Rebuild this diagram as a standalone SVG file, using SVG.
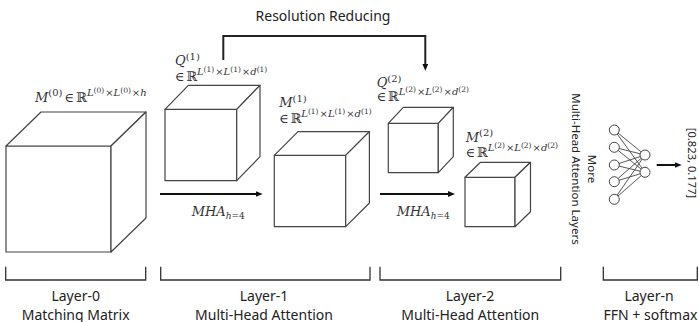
<svg xmlns="http://www.w3.org/2000/svg" width="699" height="322" viewBox="0 0 699 322">
<defs>
<marker id="ah" viewBox="0 0 7 6" refX="1" refY="3" markerWidth="7" markerHeight="6" markerUnits="userSpaceOnUse" orient="auto"><path d="M0,0 L7,3 L0,6 z" fill="#111"/></marker>
</defs>
<style>
.cube path{fill:#fff;stroke:#444;stroke-width:1.2;stroke-linejoin:round}
.br{fill:none;stroke:#333;stroke-width:1.3}
.lbl{font-family:"Noto Sans","Liberation Sans",sans-serif;font-size:14px;fill:#222;text-anchor:middle}
.vt{font-family:"Noto Sans","Liberation Sans",sans-serif;font-size:11.5px;fill:#222;text-anchor:middle}
.math{font-family:"DejaVu Serif","Liberation Serif",serif;font-size:13px;fill:#333}
.it{font-style:italic}
.sp{font-size:10px}
.ss{font-size:7.5px}
.sb{font-size:9px}
.bb{font-family:"DejaVu Serif","DejaVu Sans",serif}
.arr{fill:none;stroke:#111;stroke-width:2;marker-end:url(#ah)}
.conn{fill:none;stroke:#222;stroke-width:2}
.nn line{stroke:#444;stroke-width:0.9}
.nn circle{fill:#fff;stroke:#444;stroke-width:1}
</style>

<g id="layer0">
<g id="cube-M0" class="cube">
<path d="M6,146 H111 V252 H6 Z"/>
<path d="M6,146 L41,112 H146 L111,146 Z"/>
<path d="M111,146 L146,112 V218 L111,252 Z"/>
</g>
<text class="math" x="35" y="101.7"><tspan class="it">M</tspan><tspan class="sp" dy="-5.5">(0)</tspan><tspan dy="5.5" dx="2">∈</tspan><tspan class="bb" dx="2">ℝ</tspan><tspan class="sp it" dy="-6">L</tspan><tspan class="ss" dy="-3">(0)</tspan><tspan class="sp" dy="3" dx="1">×</tspan><tspan class="sp it">L</tspan><tspan class="ss" dy="-3">(0)</tspan><tspan class="sp" dy="3" dx="1">×</tspan><tspan class="sp it">h</tspan></text>
<path class="br" d="M5.7,266.7 V280 H145.7 V266.7"/>
<text class="lbl" x="75.7" y="301">Layer-0</text>
<text class="lbl" x="75.7" y="319.5">Matching Matrix</text>
</g>

<g id="layer1">
<g id="cube-Q1" class="cube">
<path d="M165,109.3 H236.7 V180.7 H165 Z"/>
<path d="M165,109.3 L188.3,85.3 H260 L236.7,109.3 Z"/>
<path d="M236.7,109.3 L260,85.3 V156.7 L236.7,180.7 Z"/>
</g>
<text class="math" x="175" y="65"><tspan class="it">Q</tspan><tspan class="sp" dy="-5.5">(1)</tspan></text>
<text class="math" x="175" y="81"><tspan>∈</tspan><tspan class="bb" dx="1.5">ℝ</tspan><tspan class="sp it" dy="-6">L</tspan><tspan class="ss" dy="-3">(1)</tspan><tspan class="sp" dy="3" dx="1">×</tspan><tspan class="sp it">L</tspan><tspan class="ss" dy="-3">(1)</tspan><tspan class="sp" dy="3" dx="1">×</tspan><tspan class="sp it">d</tspan><tspan class="ss" dy="-3">(1)</tspan></text>
<g id="cube-M1" class="cube">
<path d="M274.3,155.3 H345.7 V226.7 H274.3 Z"/>
<path d="M274.3,155.3 L298,131.6 H369.4 L345.7,155.3 Z"/>
<path d="M345.7,155.3 L369.4,131.6 V203 L345.7,226.7 Z"/>
</g>
<text class="math" x="279.3" y="107"><tspan class="it">M</tspan><tspan class="sp" dy="-5.5">(1)</tspan></text>
<text class="math" x="279.3" y="123"><tspan>∈</tspan><tspan class="bb" dx="1.5">ℝ</tspan><tspan class="sp it" dy="-6">L</tspan><tspan class="ss" dy="-3">(1)</tspan><tspan class="sp" dy="3" dx="1">×</tspan><tspan class="sp it">L</tspan><tspan class="ss" dy="-3">(1)</tspan><tspan class="sp" dy="3" dx="1">×</tspan><tspan class="sp it">d</tspan><tspan class="ss" dy="-3">(1)</tspan></text>
<text class="math" x="191.7" y="216"><tspan class="it">MHA</tspan><tspan class="sb it" dy="3">h</tspan><tspan class="sb">=4</tspan></text>
<path class="br" d="M160.7,266.7 V280 H370 V266.7"/>
<text class="lbl" x="264" y="301">Layer-1</text>
<text class="lbl" x="264" y="319.5">Multi-Head Attention</text>
</g>

<g id="layer2">
<g id="cube-Q2" class="cube">
<path d="M388.3,123.3 H438.3 V172.7 H388.3 Z"/>
<path d="M388.3,123.3 L403.3,107.3 H453.3 L438.3,123.3 Z"/>
<path d="M438.3,123.3 L453.3,107.3 V156.7 L438.3,172.7 Z"/>
</g>
<text class="math" x="376.7" y="87"><tspan class="it">Q</tspan><tspan class="sp" dy="-5.5">(2)</tspan></text>
<text class="math" x="376.7" y="100.5"><tspan>∈</tspan><tspan class="bb" dx="1.5">ℝ</tspan><tspan class="sp it" dy="-6">L</tspan><tspan class="ss" dy="-3">(2)</tspan><tspan class="sp" dy="3" dx="1">×</tspan><tspan class="sp it">L</tspan><tspan class="ss" dy="-3">(2)</tspan><tspan class="sp" dy="3" dx="1">×</tspan><tspan class="sp it">d</tspan><tspan class="ss" dy="-3">(2)</tspan></text>
<g id="cube-M2" class="cube">
<path d="M465,177.3 H515 V226.7 H465 Z"/>
<path d="M465,177.3 L480.5,162.3 H530.5 L515,177.3 Z"/>
<path d="M515,177.3 L530.5,162.3 V211.7 L515,226.7 Z"/>
</g>
<text class="math" x="465.7" y="141.5"><tspan class="it">M</tspan><tspan class="sp" dy="-5.5">(2)</tspan></text>
<text class="math" x="465.7" y="156.5"><tspan>∈</tspan><tspan class="bb" dx="1.5">ℝ</tspan><tspan class="sp it" dy="-6">L</tspan><tspan class="ss" dy="-3">(2)</tspan><tspan class="sp" dy="3" dx="1">×</tspan><tspan class="sp it">L</tspan><tspan class="ss" dy="-3">(2)</tspan><tspan class="sp" dy="3" dx="1">×</tspan><tspan class="sp it">d</tspan><tspan class="ss" dy="-3">(2)</tspan></text>
<text class="math" x="396.7" y="216"><tspan class="it">MHA</tspan><tspan class="sb it" dy="3">h</tspan><tspan class="sb">=4</tspan></text>
<path class="br" d="M380,266.7 V280 H560.7 V266.7"/>
<text class="lbl" x="470" y="301">Layer-2</text>
<text class="lbl" x="470.3" y="319.5">Multi-Head Attention</text>
</g>

<g id="more-layers" transform="translate(572,169) rotate(90)">
<text class="vt" x="0" y="-16">More</text>
<text class="vt" x="0" y="0">Multi-Head Attention Layers</text>
</g>

<g id="layer-n">
<g id="ffn" class="nn">
<line x1="614.3" y1="130" x2="645" y2="155"/><line x1="614.3" y1="130" x2="645" y2="172.3"/>
<line x1="614.3" y1="147.3" x2="645" y2="155"/><line x1="614.3" y1="147.3" x2="645" y2="172.3"/>
<line x1="614.3" y1="165" x2="645" y2="155"/><line x1="614.3" y1="165" x2="645" y2="172.3"/>
<line x1="614.3" y1="181.7" x2="645" y2="155"/><line x1="614.3" y1="181.7" x2="645" y2="172.3"/>
<line x1="614.3" y1="199.3" x2="645" y2="155"/><line x1="614.3" y1="199.3" x2="645" y2="172.3"/>
<circle cx="614.3" cy="130" r="5"/><circle cx="614.3" cy="147.3" r="5"/><circle cx="614.3" cy="165" r="5"/><circle cx="614.3" cy="181.7" r="5"/><circle cx="614.3" cy="199.3" r="5"/>
<circle cx="645" cy="155" r="5"/><circle cx="645" cy="172.3" r="5"/>
</g>
<g id="output" transform="translate(688,163) rotate(90)">
<text class="vt" style="font-size:11.2px" x="0" y="0">[0.823, 0.177]</text>
</g>
<path class="br" d="M603.3,266.7 V280 H697.3 V266.7"/>
<text class="lbl" x="649" y="301">Layer-n</text>
<text class="lbl" x="650.5" y="319.5">FFN + softmax</text>
</g>

<text id="resolution-label" class="lbl" x="323" y="21">Resolution Reducing</text>

<g id="connectors">
<path class="conn" d="M223.3,60 V36 H425.3 V64.7" marker-end="url(#ah)"/>
<path class="arr" d="M160,194 H256.7"/>
<path class="arr" d="M380,194 H449"/>
<path class="arr" d="M656.7,165 H675.7"/>
</g>
</svg>
